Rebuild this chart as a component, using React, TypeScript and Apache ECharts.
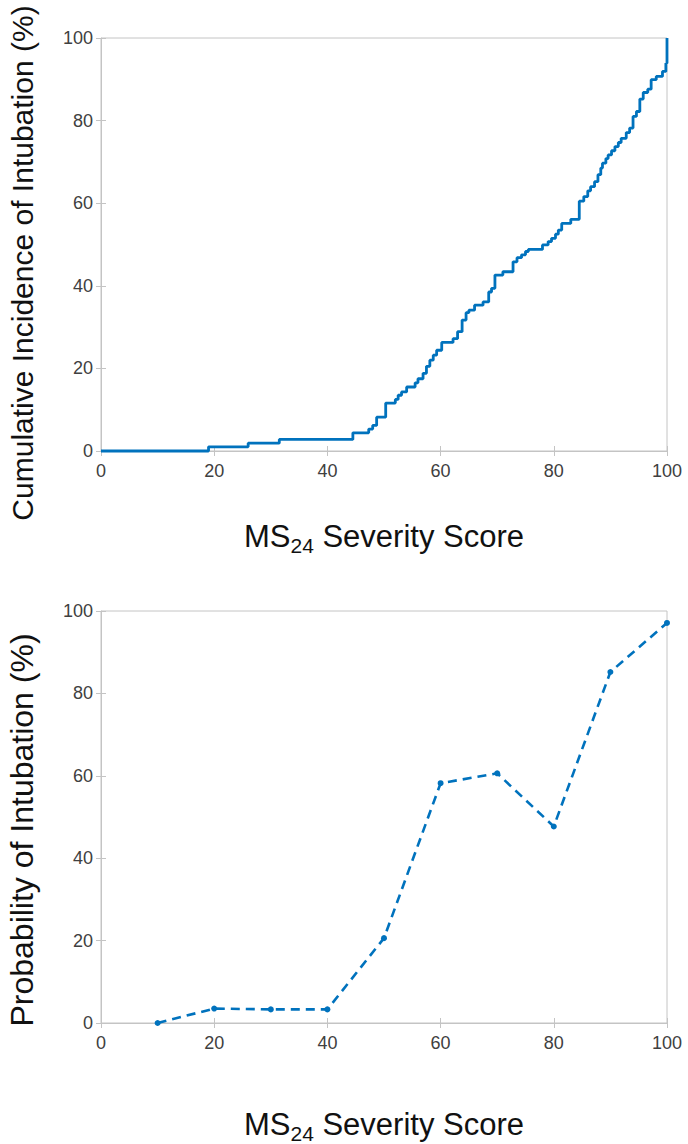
import React, { useEffect, useRef } from "react";
import * as echarts from "echarts";

// Top chart: cumulative incidence step curve (x = MS24 score, y = %)
const cumX = [0, 19, 26, 31.5, 44.5, 47.3, 48, 48.7, 50.3, 52, 52.5, 53.1, 54, 55.5, 56, 56.9, 57.5, 58.1, 58.7, 59.3, 60.2, 62.2, 63, 63.8, 64.5, 65, 66, 67.5, 68.5, 69, 69.6, 71, 72.8, 73.5, 74.3, 75, 75.5, 78, 79, 79.6, 80.3, 80.8, 81.4, 83, 84.5, 85.3, 86, 86.5, 87.2, 87.8, 88.3, 88.6, 89.2, 89.6, 90.2, 90.8, 91.4, 91.9, 92.8, 93.4, 94, 94.6, 95.2, 95.8, 96.6, 97.2, 98.1, 99.2, 99.8, 100];
const cumY = [0, 1, 1.9, 2.8, 4.4, 5.3, 6.2, 8.2, 11.6, 12.5, 13.5, 14.3, 15.5, 16.5, 17.5, 18.8, 20.5, 22, 23.2, 24.4, 26.3, 27.2, 28.9, 31.7, 33.5, 34.1, 35.3, 36.1, 38.5, 39.4, 42.6, 43.4, 45.8, 46.8, 47.5, 48.3, 48.8, 49.9, 50.7, 51.5, 52.5, 53.5, 55.1, 56.1, 60.5, 61.6, 63, 64, 65.2, 66.9, 68.5, 69.7, 70.8, 71.7, 72.7, 73.7, 74.7, 75.7, 77.1, 78.2, 81, 82.2, 85.2, 86.8, 87.6, 89.9, 90.7, 91.9, 93.9, 100];

// Bottom chart: probability of intubation by score bin
const probX = [10, 20, 30, 40, 50, 60, 70, 80, 90, 100];
const probY = [0, 3.5, 3.3, 3.3, 20.6, 58.2, 60.6, 47.7, 85.2, 97.1];

const xTicks = [0, 20, 40, 60, 80, 100];
const yTicks = [0, 20, 40, 60, 80, 100];

const topYName = "Cumulative Incidence of Intubation (%)";
const bottomYName = "Probability of Intubation (%)";

const BLUE = "#0072BD";
const GRAY = "#c4c4c4";
const LABEL = "#404040";
const FONT = "'Liberation Sans', Arial, Helvetica, sans-serif";

export default function App() {
  const ref = useRef<HTMLDivElement>(null);
  useEffect(() => {
    const chart = echarts.init(ref.current!, null, { renderer: "svg" });
    const xName = "{a|MS}{b|24}{a| Severity Score}";
    const nameRich = {
      a: { fontSize: 31, fontFamily: FONT, color: "#111", verticalAlign: "top", lineHeight: 44 },
      b: { fontSize: 21, fontFamily: FONT, color: "#111", verticalAlign: "top", lineHeight: 44, padding: [14, 0, 0, 0] },
    };
    const mainX = (gi: number, gap: number) => ({
      type: "value",
      gridIndex: gi,
      min: 0,
      max: 100,
      interval: 20,
      name: xName,
      nameLocation: "middle",
      nameGap: gap,
      nameTextStyle: { rich: nameRich },
      axisLine: { show: true, lineStyle: { color: GRAY, width: 1 } },
      axisTick: { show: true, inside: true, length: 5, lineStyle: { color: GRAY } },
      axisLabel: {
        color: LABEL,
        fontSize: 18,
        fontFamily: FONT,
        margin: 11,
        formatter: (v: number) => (xTicks.includes(v) ? String(v) : ""),
      },
      splitLine: { show: false },
    });
    const mirrorX = (gi: number) => ({
      type: "value",
      gridIndex: gi,
      position: "top",
      min: 0,
      max: 100,
      interval: 20,
      axisLine: { show: false },
      axisTick: { show: true, inside: true, length: 5, lineStyle: { color: GRAY } },
      axisLabel: { show: false },
      splitLine: { show: false },
    });
    const mainY = (gi: number) => ({
      type: "value",
      gridIndex: gi,
      min: 0,
      max: 100,
      interval: 20,
      axisLine: { show: true, lineStyle: { color: GRAY, width: 1 } },
      axisTick: { show: true, inside: true, length: 5, lineStyle: { color: GRAY } },
      axisLabel: {
        color: LABEL,
        fontSize: 18,
        fontFamily: FONT,
        margin: 8,
        formatter: (v: number) => (yTicks.includes(v) ? String(v) : ""),
      },
      splitLine: { show: false },
    });
    const mirrorY = (gi: number) => ({
      type: "value",
      gridIndex: gi,
      position: "right",
      min: 0,
      max: 100,
      interval: 20,
      axisLine: { show: false },
      axisTick: { show: true, inside: true, length: 5, lineStyle: { color: GRAY } },
      axisLabel: { show: false },
      splitLine: { show: false },
    });

    chart.setOption({
      animation: false,
      backgroundColor: "#ffffff",
      grid: [
        { left: 101, top: 38, width: 566, height: 413, show: true, borderColor: GRAY, borderWidth: 1, backgroundColor: "transparent", containLabel: false, outerBoundsMode: "none" },
        { left: 101, top: 611, width: 566, height: 412, show: true, borderColor: GRAY, borderWidth: 1, backgroundColor: "transparent", containLabel: false, outerBoundsMode: "none" },
      ],
      xAxis: [mainX(0, 70), mirrorX(0), mainX(1, 86), mirrorX(1)],
      yAxis: [mainY(0), mirrorY(0), mainY(1), mirrorY(1)],
      graphic: [
        {
          type: "text",
          x: 22,
          y: 263,
          rotation: Math.PI / 2,
          style: { text: topYName, font: `30px ${FONT}`, fill: "#111", textAlign: "center", textVerticalAlign: "middle" },
        },
        {
          type: "text",
          x: 22,
          y: 830,
          rotation: Math.PI / 2,
          style: { text: bottomYName, font: `32px ${FONT}`, fill: "#111", textAlign: "center", textVerticalAlign: "middle" },
        },
      ],
      series: [
        {
          type: "line",
          xAxisIndex: 0,
          yAxisIndex: 0,
          step: "end",
          showSymbol: false,
          symbol: "none",
          lineStyle: { color: BLUE, width: 2.8 },
          data: cumX.map((x, i) => [x, cumY[i]]),
          clip: false,
        },
        {
          type: "line",
          xAxisIndex: 2,
          yAxisIndex: 2,
          symbol: "circle",
          symbolSize: 6,
          showSymbol: true,
          itemStyle: { color: BLUE },
          lineStyle: { color: BLUE, width: 2.6, type: [9, 6] },
          data: probX.map((x, i) => [x, probY[i]]),
          clip: false,
        },
      ],
    });
    return () => chart.dispose();
  }, []);
  return (
    <div
      ref={ref}
      style={{ position: "absolute", left: 0, top: 0, width: 688, height: 1144, background: "#fff" }}
    />
  );
}
